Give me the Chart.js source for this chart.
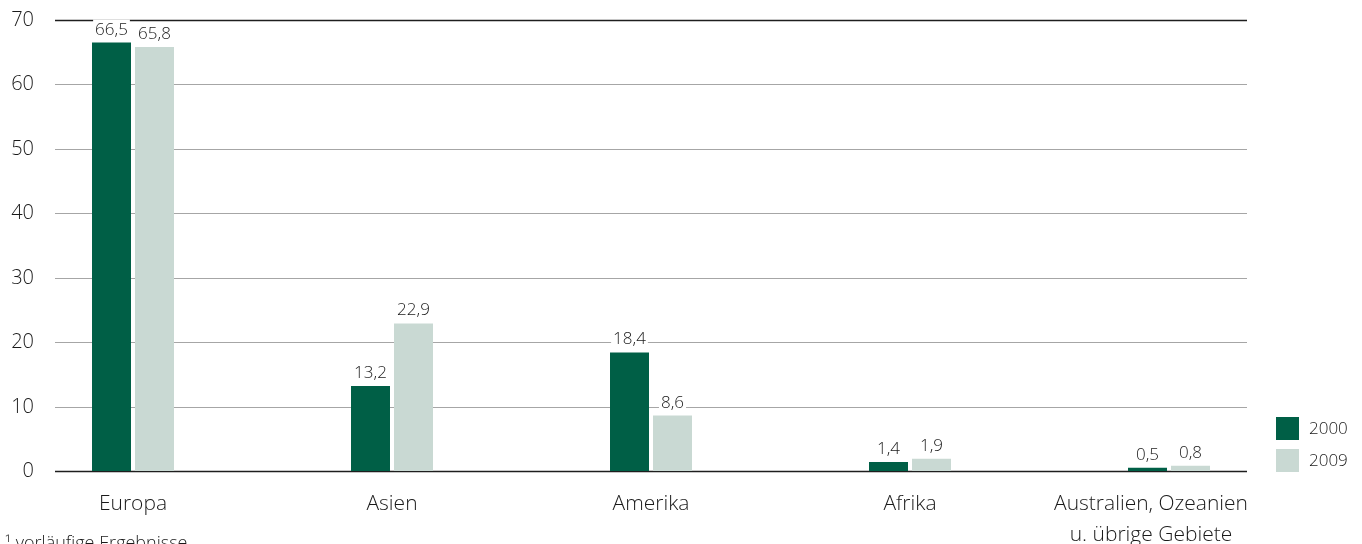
<!DOCTYPE html>
<html lang="de">
<head>
<meta charset="utf-8">
<title>Anteile nach Kontinenten</title>
<script src="https://cdn.jsdelivr.net/npm/chart.js@4"></script>
<style>
  html, body { margin: 0; padding: 0; background: #fff; }
  #wrap { position: relative; width: 1362px; height: 544px; }
</style>
</head>
<body>
<div id="wrap"><canvas id="chart"></canvas></div>
<script>
// Categories, series and axis ticks
const categories = ['Europa', 'Asien', 'Amerika', 'Afrika', ['Australien, Ozeanien', 'u. übrige Gebiete']];
const series2000 = [66.5, 13.2, 18.4, 1.4, 0.5];
const series2009 = [65.8, 22.9, 8.6, 1.9, 0.8];
const seriesLabels = ['2000', '2009'];
const yTicks = [0, 10, 20, 30, 40, 50, 60, 70];
const footnote = '\u00B9 vorläufige Ergebnisse';

const DARK = '#005f46';
const LIGHT = '#c9d9d3';
const FONT = '"Open Sans", "DejaVu Sans", sans-serif';
const TEXT = '#1a1a1a';
const GRID_LEFT = 55, GRID_RIGHT = 1247;

const fmt = v => v.toFixed(1).replace('.', ',');

// Grid, tick labels, value labels, category labels, legend and footnote
const decorations = {
  id: 'decorations',
  beforeDatasetsDraw(chart) {
    const { ctx } = chart;
    const y = chart.scales.y;
    ctx.save();
    yTicks.forEach(t => {
      const py = Math.round(y.getPixelForValue(t)) + 0.5;
      ctx.beginPath();
      ctx.moveTo(GRID_LEFT, py);
      ctx.lineTo(GRID_RIGHT, py);
      const edge = (t === 0 || t === yTicks[yTicks.length - 1]);
      ctx.strokeStyle = edge ? '#1e1e1e' : '#a6a6a6';
      ctx.lineWidth = edge ? 1.6 : 1.2;
      ctx.stroke();

      ctx.fillStyle = TEXT;
      ctx.font = '300 20px ' + FONT;
      ctx.textAlign = 'right';
      ctx.textBaseline = 'middle';
      ctx.fillText(String(t), 34, py);
    });
    ctx.restore();
  },
  afterDatasetsDraw(chart) {
    const { ctx } = chart;
    const x = chart.scales.x;
    ctx.save();

    // value labels with white backing over the grid
    ctx.font = '300 17px ' + FONT;
    ctx.textAlign = 'center';
    ctx.textBaseline = 'alphabetic';
    chart.data.datasets.forEach((ds, di) => {
      chart.getDatasetMeta(di).data.forEach((bar, i) => {
        const txt = fmt(ds.data[i]);
        const w = ctx.measureText(txt).width;
        const by = bar.y - 8;
        ctx.fillStyle = '#fff';
        ctx.fillRect(bar.x - w / 2 - 2, by - 15, w + 4, 19);
        ctx.fillStyle = TEXT;
        ctx.fillText(txt, bar.x, by);
      });
    });

    // category labels, kept inside the grid's right end
    ctx.font = '300 21px ' + FONT;
    categories.forEach((c, i) => {
      const lines = Array.isArray(c) ? c : [c];
      const widest = Math.max(...lines.map(l => ctx.measureText(l).width));
      let px = x.getPixelForValue(i);
      if (px + widest / 2 > GRID_RIGHT + 1) px = GRID_RIGHT + 1 - widest / 2;
      lines.forEach((l, k) => ctx.fillText(l, px, 510 + k * 31));
    });

    // footnote
    ctx.textAlign = 'left';
    ctx.font = '300 18px ' + FONT;
    ctx.fillText(footnote, 5, 549);

    // legend
    ctx.font = '300 17px ' + FONT;
    ctx.textBaseline = 'middle';
    chart.data.datasets.forEach((ds, di) => {
      const top = 417 + di * 32;
      ctx.fillStyle = ds.backgroundColor;
      ctx.fillRect(1276, top, 23, 23);
      ctx.fillStyle = TEXT;
      ctx.fillText(ds.label, 1309, top + 12);
    });
    ctx.restore();
  }
};

new Chart(document.getElementById('chart'), {
  type: 'bar',
  data: {
    labels: categories,
    datasets: [
      { label: seriesLabels[0], data: series2000, backgroundColor: DARK },
      { label: seriesLabels[1], data: series2009, backgroundColor: LIGHT }
    ]
  },
  options: {
    responsive: true,
    maintainAspectRatio: false,
    animation: false,
    devicePixelRatio: 1,
    categoryPercentage: 0.332,
    barPercentage: 0.907,
    layout: { padding: { left: 3.5, right: 63.5, top: 20, bottom: 73 } },
    scales: {
      x: { display: false },
      y: { display: false, min: 0, max: 70 }
    },
    plugins: {
      legend: { display: false },
      tooltip: { enabled: false }
    }
  },
  plugins: [decorations]
});
</script>
</body>
</html>
